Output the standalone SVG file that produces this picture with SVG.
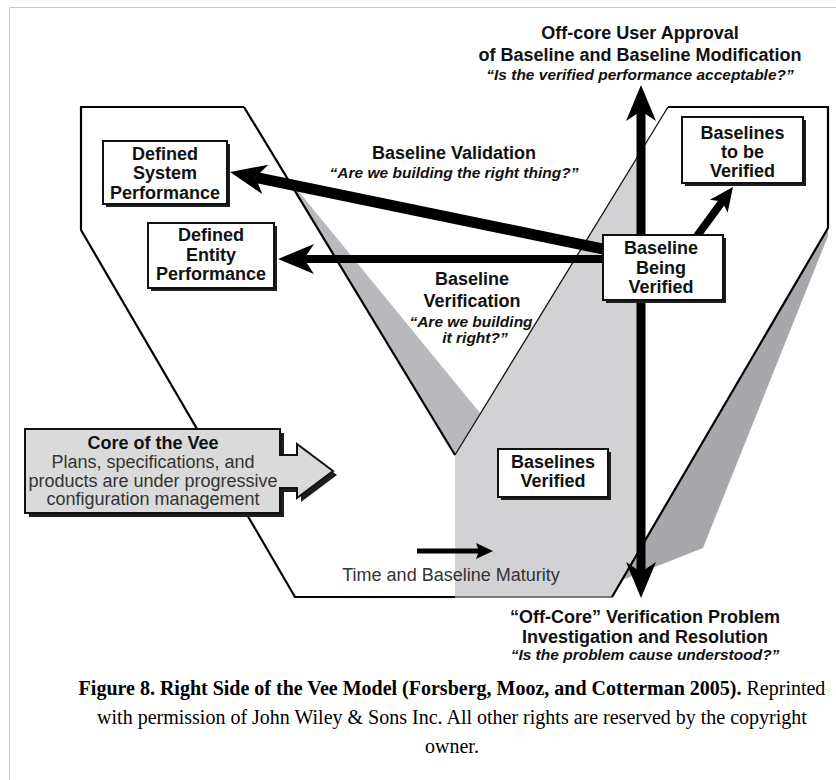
<svg xmlns="http://www.w3.org/2000/svg" width="836" height="780" viewBox="0 0 836 780">
<defs>
<style>
.frame{fill:none;stroke:#c8c8c8;stroke-width:1}
.vline{fill:none;stroke:#000;stroke-width:2.2;stroke-linejoin:miter}
.thin{fill:none;stroke:#111;stroke-width:1.3}
.box{fill:#fff;stroke:#111;stroke-width:2}
.shadow{fill:#1e1e1e}
.conn{fill:none;stroke:#000;stroke-linecap:butt}
.t{font-family:"Liberation Sans",Arial,sans-serif;font-weight:bold;font-size:18px;fill:#111;text-anchor:middle}
.q{font-style:italic;font-size:15.5px}
.r{font-weight:normal;fill:#333}
.cap{font-family:"Liberation Serif","Times New Roman",serif;font-size:20px;fill:#000;text-anchor:middle}
</style>
<marker id="big" markerUnits="userSpaceOnUse" orient="auto-start-reverse" markerWidth="1" markerHeight="1" refX="0" refY="0" style="overflow:visible">
<path d="M26,0 L-10,-15 L0,0 L-10,15 Z" fill="#000"/>
</marker>
<marker id="mid" markerUnits="userSpaceOnUse" orient="auto" markerWidth="1" markerHeight="1" refX="0" refY="0" style="overflow:visible">
<path d="M18,0 L-6,-11 L0,0 L-6,11 Z" fill="#000"/>
</marker>
<marker id="small" markerUnits="userSpaceOnUse" orient="auto" markerWidth="1" markerHeight="1" refX="0" refY="0" style="overflow:visible">
<path d="M14,0 L-3,-8 L0,0 L-3,8 Z" fill="#000"/>
</marker>
</defs>
<rect width="836" height="780" fill="#fff"/>
<path class="frame" d="M9.5,780 V7.5 H836"/>

<g id="vee">
<polygon points="81,107 244,107 455,455 668,107 828,107 828,228 612,597 295,597 81,230" fill="#fff"/>
<polygon points="455,455 637,158 641,158 641,551 612,597 455,597" fill="#d2d2d5"/>
<polygon points="286,176 480,413 455,455" fill="#b9b9bd"/>
<polygon points="828,228 828,236 703,548 622,580" fill="#a8a8ac"/>
<path class="vline" d="M244,107 H81 V230 L295,597 H455"/>
<path d="M455,597 H612" fill="none" stroke="#555" stroke-width="1.5"/>
<path class="vline" d="M244,107 L455,455"/>
<path class="thin" d="M455,455 L668,107"/>
<path class="vline" d="M668,107 H828 V228 L612,597"/>
</g>

<g id="connectors">
<path class="conn" d="M612,250.8 L255.5,177.3" stroke-width="11" marker-end="url(#big)"/>
<path class="conn" d="M612,259 H304" stroke-width="8" marker-end="url(#big)"/>
<path class="conn" d="M641,111 V572" stroke-width="9" marker-start="url(#big)" marker-end="url(#big)"/>
<path class="conn" d="M697,236 L722.3,201.5" stroke-width="8" marker-end="url(#mid)"/>
<path class="conn" d="M417,551 H479" stroke-width="5" marker-end="url(#small)"/>
</g>

<g id="core">
<polygon class="shadow" transform="translate(4,4)" points="25,429 280,429 280,455 297,455 297,444 333,471 297,498 297,488 280,488 280,513 25,513"/>
<polygon points="25,429 280,429 280,455 297,455 297,444 333,471 297,498 297,488 280,488 280,513 25,513" fill="#dadada" stroke="#111" stroke-width="2"/>
<text class="t" x="153" y="449">Core of the Vee</text>
<text class="t r" x="153" y="468" font-size="15">Plans, specifications, and</text>
<text class="t r" x="153" y="486.5" font-size="15">products are under progressive</text>
<text class="t r" x="153" y="505" font-size="15">configuration management</text>
</g>

<g id="defined-system">
<rect class="shadow" x="106" y="144" width="124" height="63"/>
<rect class="box" x="103" y="141" width="124" height="63"/>
<text class="t" x="165" y="159.5">Defined</text>
<text class="t" x="165" y="179">System</text>
<text class="t" x="165" y="198.5">Performance</text>
</g>

<g id="defined-entity">
<rect class="shadow" x="151" y="226" width="126" height="65"/>
<rect class="box" x="148" y="223" width="126" height="65"/>
<text class="t" x="211" y="241">Defined</text>
<text class="t" x="211" y="260.5">Entity</text>
<text class="t" x="211" y="279.5">Performance</text>
</g>

<g id="baselines-to-be-verified">
<rect class="shadow" x="685" y="120" width="121" height="66"/>
<rect class="box" x="682" y="117" width="121" height="66"/>
<text class="t" x="742.5" y="139">Baselines</text>
<text class="t" x="742.5" y="158">to be</text>
<text class="t" x="742.5" y="177">Verified</text>
</g>

<g id="baseline-being-verified">
<rect class="shadow" x="606" y="238" width="120" height="65"/>
<rect class="box" x="603" y="235" width="120" height="65"/>
<text class="t" x="661" y="254">Baseline</text>
<text class="t" x="661" y="273.5">Being</text>
<text class="t" x="661" y="293">Verified</text>
</g>

<g id="baselines-verified">
<rect class="shadow" x="501" y="452" width="110" height="48"/>
<rect class="box" x="498" y="449" width="110" height="48"/>
<text class="t" x="553" y="468">Baselines</text>
<text class="t" x="553" y="487">Verified</text>
</g>

<g id="label-approval">
<text class="t" x="640" y="39">Off-core User Approval</text>
<text class="t" x="640" y="61">of Baseline and Baseline Modification</text>
<text class="t q" x="640" y="80">“Is the verified performance acceptable?”</text>
</g>

<g id="label-validation">
<text class="t" x="454" y="159">Baseline Validation</text>
<text class="t q" x="454" y="178">“Are we building the right thing?”</text>
</g>

<g id="label-verification">
<text class="t" x="472" y="285">Baseline</text>
<text class="t" x="472" y="307">Verification</text>
<text class="t q" x="471" y="327">“Are we building</text>
<text class="t q" x="475" y="343">it right?”</text>
</g>

<g id="label-time">
<text class="t r" x="451" y="581" font-size="18.5">Time and Baseline Maturity</text>
</g>

<g id="label-offcore">
<text class="t" x="645" y="623">“Off-Core” Verification Problem</text>
<text class="t" x="645" y="643" font-size="17">Investigation and Resolution</text>
<text class="t q" x="645" y="660">“Is the problem cause understood?”</text>
</g>

<g id="caption">
<text class="cap" x="452" y="695"><tspan font-weight="bold">Figure 8. Right Side of the Vee Model (Forsberg, Mooz, and Cotterman 2005).</tspan> Reprinted</text>
<text class="cap" x="452" y="724">with permission of John Wiley &amp; Sons Inc. All other rights are reserved by the copyright</text>
<text class="cap" x="452" y="753">owner.</text>
</g>
</svg>
